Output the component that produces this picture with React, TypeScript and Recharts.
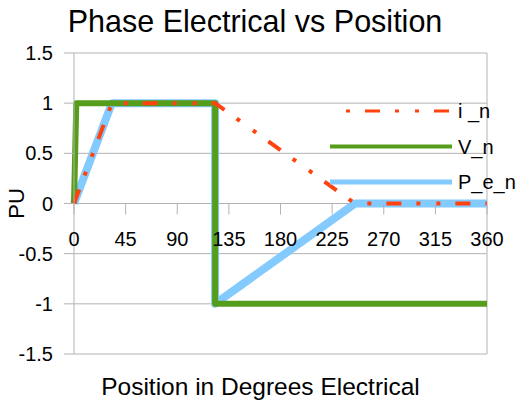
import React from "react";
import {
  LineChart,
  Line,
  XAxis,
  YAxis,
  CartesianGrid,
  ReferenceLine,
  ReferenceDot,
  Legend,
} from "recharts";

const FONT = '"Liberation Sans", Arial, sans-serif';
const GRID = "#b3b3b3";

// degrees electrical ticks and per-unit ticks
const xTicks = [0, 45, 90, 135, 180, 225, 270, 315, 360];
const yTicks = [-1.5, -1, -0.5, 0, 0.5, 1, 1.5];

// phase current
const iN = [
  { pos: 0, val: 0 },
  { pos: 33, val: 1 },
  { pos: 123, val: 1 },
  { pos: 245, val: 0 },
  { pos: 360, val: 0 },
];

// phase back-emf
const vN = [
  { pos: 0, val: 0 },
  { pos: 2, val: 1 },
  { pos: 123, val: 1 },
  { pos: 123, val: -1 },
  { pos: 360, val: -1 },
];

// electrical power
const peN = [
  { pos: 0, val: 0 },
  { pos: 33, val: 1 },
  { pos: 123, val: 1 },
  { pos: 123, val: -1 },
  { pos: 245, val: 0 },
  { pos: 360, val: 0 },
];

const DASH_DOT_DOT = "15 15 4 16 4 15";

const legendItems = [
  { name: "i _n", color: "#ff420e", width: 3, dash: DASH_DOT_DOT, offset: 34 },
  { name: "V_n", color: "#579d1c", width: 4, dash: undefined, offset: 0 },
  { name: "P_e_n", color: "#83caff", width: 5, dash: undefined, offset: 0 },
];

function renderLegend() {
  return (
    <svg width={194} height={110} style={{ display: "block", overflow: "visible" }}>
      {legendItems.map((it, i) => {
        const y = 16 + i * 35.5;
        return (
          <g key={it.name}>
            <line
              x1={5}
              x2={127}
              y1={y}
              y2={y}
              stroke={it.color}
              strokeWidth={it.width}
              strokeDasharray={it.dash}
              strokeDashoffset={it.offset}
            />
            <text x={133} y={y + 7.3} fontSize={20} fontFamily={FONT} fill="#000">
              {it.name}
            </text>
          </g>
        );
      })}
    </svg>
  );
}

// tick mark + label hanging below the zero line
function zeroAxisTick(value: number) {
  return (p: any) => (
    <g>
      <line x1={p.cx} x2={p.cx} y1={p.cy} y2={p.cy + 11} stroke={GRID} strokeWidth={1} />
      <text
        x={p.cx}
        y={p.cy + 42}
        textAnchor="middle"
        fontSize={20}
        fontFamily={FONT}
        fill="#000"
      >
        {value}
      </text>
    </g>
  );
}

export default function App() {
  return (
    <div
      style={{
        position: "absolute",
        left: 0,
        top: 0,
        width: 519,
        height: 400,
        background: "#fff",
        fontFamily: FONT,
      }}
    >
      <div
        style={{
          position: "absolute",
          top: 1,
          left: 5,
          width: 500,
          textAlign: "center",
          fontSize: 30.5,
          lineHeight: "40px",
          color: "#000",
          whiteSpace: "nowrap",
          zIndex: 2,
        }}
      >
        Phase Electrical vs Position
      </div>
      <LineChart width={519} height={400} margin={{ top: 53, right: 32, bottom: 0, left: 0 }}>
        <CartesianGrid vertical={false} stroke={GRID} strokeWidth={1} />
        <XAxis
          dataKey="pos"
          type="number"
          domain={[0, 360]}
          ticks={xTicks}
          height={46}
          axisLine={false}
          tickLine={false}
          tick={false}
          label={{
            value: "Position in Degrees Electrical",
            position: "insideBottom",
            offset: 5,
            dx: -20,
            fontSize: 24.5,
            fontFamily: FONT,
            fill: "#000",
          }}
        />
        <YAxis
          type="number"
          domain={[-1.5, 1.5]}
          ticks={yTicks}
          width={74}
          tickSize={10}
          tickMargin={11}
          axisLine={{ stroke: GRID }}
          tickLine={{ stroke: GRID }}
          tick={{ fontSize: 20, fontFamily: FONT, fill: "#000" }}
          label={{
            value: "PU",
            angle: -90,
            position: "insideLeft",
            offset: 16,
            fontSize: 22,
            fontFamily: FONT,
            fill: "#000",
            style: { textAnchor: "middle" },
          }}
        />
        <ReferenceLine x={360} stroke={GRID} strokeWidth={1} />
        {xTicks.map((t) => (
          <ReferenceDot key={t} x={t} y={0} r={0} ifOverflow="visible" shape={zeroAxisTick(t)} />
        ))}
        <Line
          data={peN}
          dataKey="val"
          name="P_e_n"
          type="linear"
          stroke="#83caff"
          strokeWidth={8}
          strokeLinejoin="round"
          dot={false}
          activeDot={false}
          isAnimationActive={false}
        />
        <Line
          data={vN}
          dataKey="val"
          name="V_n"
          type="linear"
          stroke="#579d1c"
          strokeWidth={6}
          strokeLinejoin="round"
          dot={false}
          activeDot={false}
          isAnimationActive={false}
        />
        <Line
          data={iN}
          dataKey="val"
          name="i _n"
          type="linear"
          stroke="#ff420e"
          strokeWidth={4}
          strokeDasharray={DASH_DOT_DOT}
          dot={false}
          activeDot={false}
          isAnimationActive={false}
        />
        <Legend
          layout="vertical"
          align="center"
          verticalAlign="middle"
          content={renderLegend}
          wrapperStyle={{ left: 325, top: 95, width: 194, height: 110 }}
        />
      </LineChart>
    </div>
  );
}
